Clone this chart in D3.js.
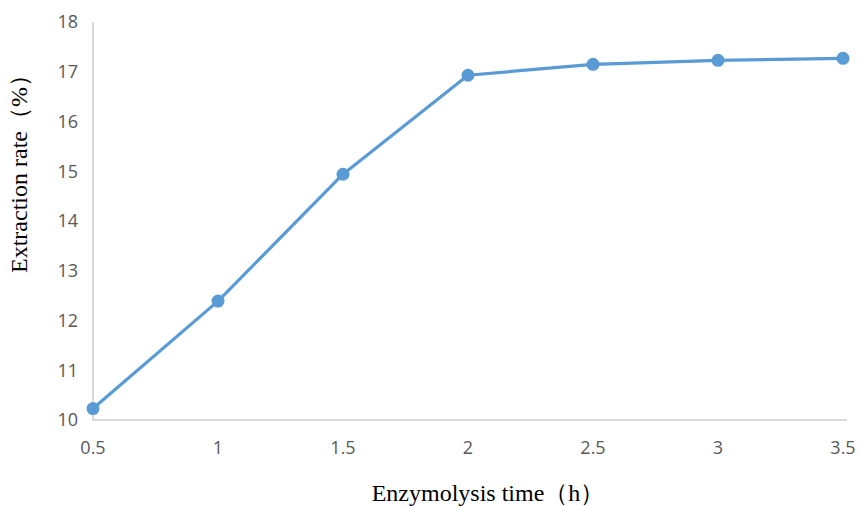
<!DOCTYPE html>
<html><head><meta charset="utf-8">
<script src="https://cdn.jsdelivr.net/npm/d3@7"></script>
<style>body{margin:0;background:#fff}svg{display:block}</style>
</head><body>
<svg id="c" width="860" height="506"></svg>
<script>
const times = [0.5, 1, 1.5, 2, 2.5, 3, 3.5];
const rates = [10.23, 12.39, 14.94, 16.93, 17.15, 17.23, 17.27];
const xTicks = [0.5, 1, 1.5, 2, 2.5, 3, 3.5];
const yTicks = [10, 11, 12, 13, 14, 15, 16, 17, 18];
const xTitle = "Enzymolysis time（h）";
const yTitle = "Extraction rate（%）";

const svg = d3.select("#c");
const x = d3.scaleLinear().domain([0.5, 3.5]).range([93, 843]);
const y = d3.scaleLinear().domain([10, 18]).range([420, 22]);

// axes lines
svg.append("line").attr("x1", 93).attr("x2", 847).attr("y1", 420).attr("y2", 420)
  .attr("stroke", "#cccccc").attr("stroke-width", 1.5);
svg.append("line").attr("x1", 93).attr("x2", 93).attr("y1", 22).attr("y2", 420)
  .attr("stroke", "#cccccc").attr("stroke-width", 1.5);

const tf = "'Open Sans', 'Liberation Sans', sans-serif";
svg.selectAll(".yt").data(yTicks).enter().append("text")
  .attr("x", 78).attr("y", d => y(d)).attr("dy", "0.35em")
  .attr("text-anchor", "end").attr("font-family", tf).attr("font-size", 18)
  .attr("fill", "#595959").text(d => d);
svg.selectAll(".xt").data(xTicks).enter().append("text")
  .attr("x", d => x(d)).attr("y", 448).attr("dy", "0.35em")
  .attr("text-anchor", "middle").attr("font-family", tf).attr("font-size", 18)
  .attr("fill", "#595959").text(d => d);

const data = times.map((t, i) => ({t, v: rates[i]}));
svg.append("path").datum(data)
  .attr("d", d3.line().x(d => x(d.t)).y(d => y(d.v)))
  .attr("fill", "none").attr("stroke", "#5b9bd5").attr("stroke-width", 3.2)
  .attr("stroke-linejoin", "round");
svg.selectAll(".pt").data(data).enter().append("circle")
  .attr("cx", d => x(d.t)).attr("cy", d => y(d.v)).attr("r", 6.5)
  .attr("fill", "#5b9bd5");

const sf = "'Liberation Serif', 'Times New Roman', serif";
svg.append("text").attr("x", 488).attr("y", 501).attr("text-anchor", "middle")
  .attr("font-family", sf).attr("font-size", 24).attr("fill", "#000").text(xTitle);
svg.append("text").attr("transform", "translate(27,168) rotate(-90)")
  .attr("text-anchor", "middle")
  .attr("font-family", sf).attr("font-size", 24).attr("fill", "#000").text(yTitle);
</script>
</body></html>
